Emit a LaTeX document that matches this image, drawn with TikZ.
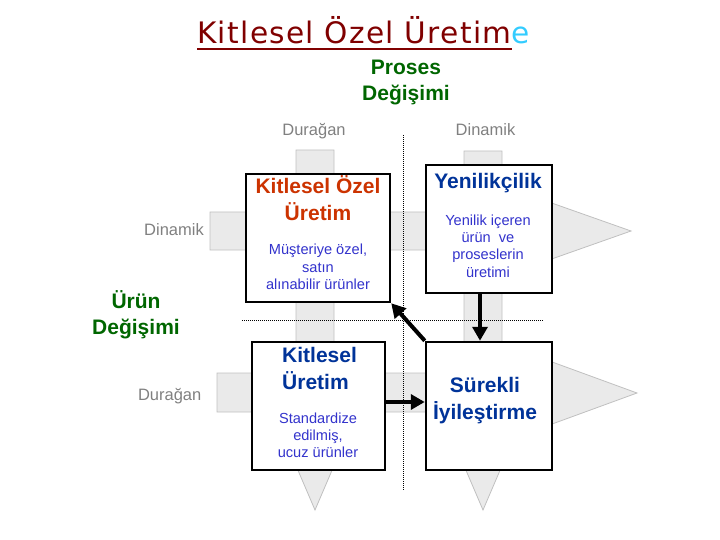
\documentclass[tikz,border=0pt]{standalone}
\usepackage{fontspec}
\setmainfont{Liberation Sans}
\newfontfamily\titlefont[LetterSpace=4.5]{DejaVu Sans}
\usetikzlibrary{arrows.meta}

\definecolor{titlered}{HTML}{800000}
\definecolor{titleblue}{HTML}{33CCFF}
\definecolor{darkgreen}{HTML}{006600}
\definecolor{orangered}{HTML}{CC3300}
\definecolor{navy}{HTML}{003399}
\definecolor{bodyblue}{HTML}{3333CC}
\definecolor{axisgray}{HTML}{808080}
\definecolor{barfill}{HTML}{EAEAEA}
\definecolor{barline}{HTML}{C0C0C0}

\tikzset{
  bar/.style={fill=barfill, draw=barline, line width=0.8pt},
  axis/.style={line width=1pt, dash pattern=on 1pt off 1pt},
  box/.style={draw, line width=2.5pt, fill=white, inner sep=0pt, minimum height=128pt},
  boxtitle/.style={font=\bfseries\fontsize{21}{27}\selectfont, align=center, inner sep=0pt},
  boxbody/.style={text=bodyblue, font=\fontsize{14.6}{17.3}\selectfont, align=center, inner sep=0pt},
  greenlabel/.style={text=darkgreen, font=\bfseries\fontsize{21}{26}\selectfont, align=center, inner sep=0pt},
  axislabel/.style={text=axisgray, font=\fontsize{16.5}{20}\selectfont, inner sep=0pt},
  flow/.style={line width=4pt, -{Triangle[length=14pt,width=15pt]}}
}

\begin{document}
\begin{tikzpicture}[x=1pt,y=-1pt]
	\useasboundingbox (0,0) rectangle (720,540);

	% gray arrows behind the grid
	\draw[bar] (296,150) -- (334,150) -- (334,440) -- (345,440) -- (315,510) -- (285,440) -- (296,440) -- cycle;
	\draw[bar] (464,151) -- (502,151) -- (502,440) -- (513,440) -- (483,510) -- (453,440) -- (464,440) -- cycle;
	\draw[bar] (210,212) -- (529,212) -- (529,195) -- (631,231) -- (529,267) -- (529,250) -- (210,250) -- cycle;
	\draw[bar] (217,373) -- (533,373) -- (533,355) -- (637,393) -- (533,431) -- (533,412) -- (217,412) -- cycle;

	% dotted axes
	\draw[axis] (403,135) -- (403,490);
	\draw[axis] (242,320) -- (543,320);

	% title
	\node[anchor=base west, inner sep=0pt, font=\titlefont\fontsize{29.6}{34}\selectfont, text=titlered] (title) at (197,43.3) {Kitlesel Özel Üretim};
	\node[anchor=base west, inner sep=0pt, font=\titlefont\fontsize{29.6}{34}\selectfont, text=titleblue] (titlee) at (title.base east) {e};
	\draw[titlered, line width=2pt] ([yshift=-5.7pt]title.base west) -- ([yshift=-5.7pt]title.base east);

	% axis labels
	\node[greenlabel] (proses) at (406,82.5) {Proses\\Değişimi};
	\node[greenlabel] (urun) at (136,314.7) {Ürün\\Değişimi};
	\node[axislabel, anchor=base] (coldur) at (314,136) {Durağan};
	\node[axislabel, anchor=base] (coldin) at (485.5,136) {Dinamik};
	\node[axislabel, anchor=base east] (rowdin) at (204,236) {Dinamik};
	\node[axislabel, anchor=base east] (rowdur) at (201.5,400) {Durağan};

	% quadrants
	\node[box, minimum width=144pt] (kozel) at (318,238) {};
	\node[box, minimum width=126pt] (yenilik) at (489,229) {};
	\node[box, minimum width=133pt] (kitlesel) at (318.5,406) {};
	\node[box, minimum width=126pt] (surekli) at (489,406) {};

	\node[boxtitle, text=orangered] (kozelt) at (318,198) {Kitlesel Özel\\Üretim};
	\node[boxbody] (kozelb) at (318,267) {Müşteriye özel,\\satın\\alınabilir ürünler};
	\node[boxtitle, text=navy] (yenilikt) at (488,182.8) {Yenilikçilik};
	\node[boxbody] (yenilikb) at (488,246) {Yenilik içeren\\ürün\ \ ve\\proseslerin\\üretimi};
	\node[boxtitle, text=navy, align=left, anchor=west] (kitlesett) at (282,368.4) {Kitlesel\\Üretim};
	\node[boxbody] (kitleselb) at (318,435.2) {Standardize\\edilmiş,\\ucuz ürünler};
	\node[boxtitle, text=navy] (surekt) at (485,401) {Sürekli\\İyileştirme};

	% transitions
	\draw[flow] ([xshift=-9pt]yenilik.south) -- ([xshift=-9pt]yenilik.south |- surekli.north);
	\draw[flow] ([yshift=4pt]kitlesel.east) -- ([yshift=4pt]kitlesel.east -| surekli.west);
	\draw[flow] (surekli.north west) -- (kozel.south east);
\end{tikzpicture}
\end{document}
